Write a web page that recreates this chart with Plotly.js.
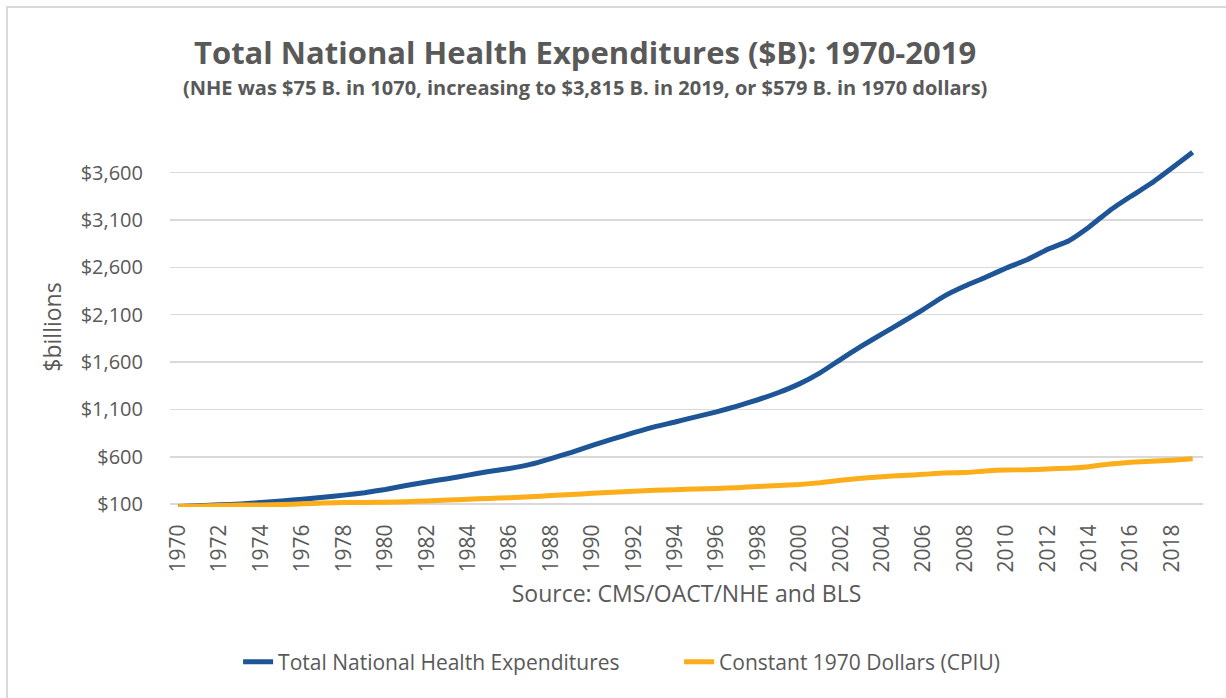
<!DOCTYPE html>
<html><head><meta charset="utf-8">
<script src="https://cdn.plot.ly/plotly-3.0.1.min.js"></script>
<style>
html,body{margin:0;padding:0;background:#fff;}
#wrap{position:relative;width:1226px;height:698px;overflow:hidden;}
#chart{width:1226px;height:698px;}
#frame{position:absolute;left:6px;top:6px;width:1300px;height:800px;border:2px solid #d9d9d9;pointer-events:none;}
</style></head>
<body><div id="wrap"><div id="chart"></div><div id="frame"></div></div>
<script>
const years = [];
for (let y = 1970; y <= 2019; y++) years.push(y);
const nheTotal = [74.6,82.7,92.7,102.8,116.5,133.3,152.7,173.9,195.3,221.4,
  255.3,296.2,334.7,368.0,406.5,444.6,476.9,519.4,581.1,647.5,
  721.4,788.1,854.1,916.6,967.2,1021.6,1074.1,1135.5,1202.0,1278.3,
  1369.7,1486.0,1629.1,1768.2,1896.5,2025.5,2157.0,2296.2,2402.5,2494.6,
  2593.2,2680.2,2790.9,2878.3,3026.2,3200.8,3347.2,3487.2,3649.4,3815.2];
const constant1970 = [74.6,79.2,86.0,89.8,91.7,96.1,104.1,111.3,116.2,118.3,
  120.2,126.4,134.6,143.4,151.8,160.3,168.8,177.4,190.6,202.6,
  214.2,224.5,236.2,246.1,253.2,260.1,265.6,274.5,286.1,297.7,
  308.6,325.6,351.4,372.9,389.5,402.4,415.1,429.7,432.9,451.2,
  461.4,462.3,471.7,479.4,496.0,524.0,541.1,552.0,563.9,579.0];
const yTickVals = [100,600,1100,1600,2100,2600,3100,3600];
const yTickText = ["$100","$600","$1,100","$1,600","$2,100","$2,600","$3,100","$3,600"];
const xTickVals = years.filter(y => (y - 1970) % 2 === 0);
const seriesNames = ["Total National Health Expenditures", "Constant 1970 Dollars (CPIU)"];

const FONT = "'Open Sans', 'Noto Sans', sans-serif";
const GRAY = "#595959";
const GAP = "\u00a0".repeat(10);

const traces = [
  {x: years, y: nheTotal, type: 'scatter', mode: 'lines', name: seriesNames[0] + GAP,
   line: {color: '#1D5596', width: 5, shape: 'spline', smoothing: 0.4}},
  {x: years, y: constant1970, type: 'scatter', mode: 'lines', name: seriesNames[1],
   line: {color: '#FCAD1A', width: 5, shape: 'spline', smoothing: 0.4}}
];

const layout = {
  width: 1226, height: 698,
  paper_bgcolor: '#fff', plot_bgcolor: '#fff',
  margin: {l: 170, r: 23, t: 147, b: 191},
  font: {family: FONT, color: GRAY},
  showlegend: true,
  legend: {orientation: 'h', x: 0.507, xref: 'container', xanchor: 'center', y: 36 / 698, yref: 'container', yanchor: 'middle',
    font: {size: 21, color: GRAY}, tracegroupgap: 0, itemwidth: 30},
  xaxis: {range: [1969.6, 2019.5], tickvals: xTickVals, ticktext: xTickVals.map(String), tickangle: -90,
    showgrid: false, zeroline: false, showline: false, ticks: 'outside', ticklen: 8, tickcolor: 'rgba(0,0,0,0)',
    tickfont: {size: 21, color: GRAY},
    title: {text: 'Source: CMS/OACT/NHE and BLS', font: {size: 23, color: GRAY}, standoff: 14}},
  yaxis: {range: [70, 3870], tickvals: yTickVals, ticktext: yTickText,
    showgrid: true, gridcolor: '#d9d9d9', gridwidth: 1.5, zeroline: false, showline: false,
    ticks: 'outside', ticklen: 22, tickcolor: 'rgba(0,0,0,0)', tickfont: {size: 20, color: GRAY},
    title: {text: '$billions', font: {size: 23, color: GRAY}, standoff: 12}},
  annotations: [
    {text: '<b>Total National Health Expenditures ($B): 1970-2019</b>', xref: 'paper', yref: 'paper',
     x: (585 - 170) / 1033, y: 1 + (147 - 52) / 360, xanchor: 'center', yanchor: 'middle', showarrow: false,
     font: {size: 31, color: GRAY, family: FONT}},
    {text: '<b>(NHE was $75 B. in 1070, increasing to $3,815 B. in 2019, or $579 B. in 1970 dollars)</b>', xref: 'paper', yref: 'paper',
     x: (585 - 170) / 1033, y: 1 + (147 - 88) / 360, xanchor: 'center', yanchor: 'middle', showarrow: false,
     font: {size: 20, color: GRAY, family: FONT}}
  ]
};
Plotly.newPlot('chart', traces, layout, {displayModeBar: false, staticPlot: true});
</script></body></html>
